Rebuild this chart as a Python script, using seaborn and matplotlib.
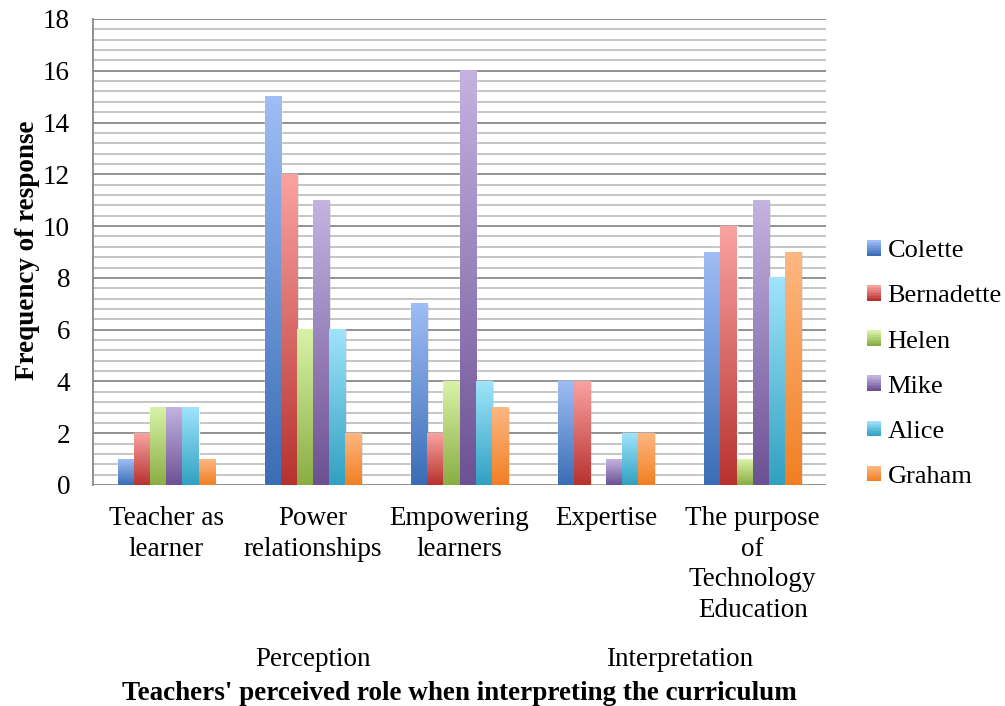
import numpy as np
import pandas as pd
import seaborn as sns
import matplotlib
matplotlib.use('Agg')
import matplotlib.pyplot as plt
from matplotlib.patches import Rectangle
from matplotlib.legend_handler import HandlerBase
from matplotlib.ticker import MultipleLocator
from matplotlib.transforms import blended_transform_factory

# Data
categories = ['Teacher as\nlearner', 'Power\nrelationships', 'Empowering\nlearners',
              'Expertise', 'The purpose\nof\nTechnology\nEducation']
teachers = ['Colette', 'Bernadette', 'Helen', 'Mike', 'Alice', 'Graham']
colette = [1, 15, 7, 4, 9]
bernadette = [2, 12, 2, 4, 10]
helen = [3, 6, 4, 0, 1]
mike = [3, 11, 16, 1, 11]
alice = [3, 6, 4, 2, 8]
graham = [1, 2, 3, 2, 9]
groups = ['Perception', 'Interpretation']
group_spans = [(0, 2), (3, 4)]

# gradient colours (top, bottom) per series
tops = ['#9fbdf6', '#f9a3a1', '#d8f3a8', '#c4b3e1', '#9fe4fb', '#fdb782']
bottoms = ['#3a6db5', '#b7322f', '#8aad43', '#6c5193', '#31a0c1', '#f17f22']

values = [colette, bernadette, helen, mike, alice, graham]
df = pd.DataFrame({
    'category': np.tile(categories, len(teachers)),
    'teacher': np.repeat(teachers, len(categories)),
    'value': np.concatenate(values),
})

sns.set_style('white')
plt.rcParams['font.family'] = ['Liberation Serif', 'DejaVu Serif']
plt.rcParams['text.color'] = 'black'
plt.rcParams['xtick.color'] = 'black'
plt.rcParams['ytick.color'] = 'black'
FS = 19.5

fig = plt.figure(figsize=(10.05, 7.06), dpi=100)
ax = fig.add_axes([93 / 1005, 1 - 485 / 706, (826 - 93) / 1005, (485 - 19) / 706])

sns.barplot(data=df, x='category', y='value', hue='teacher', hue_order=teachers,
            order=categories, palette=bottoms, width=0.66, ax=ax, legend=False,
            zorder=3)


def ramp(top, bottom, n=256):
    t = np.linspace(0, 1, n)[:, None]
    a = np.array(matplotlib.colors.to_rgb(top))
    b = np.array(matplotlib.colors.to_rgb(bottom))
    return (a * (1 - t) + b * t)[:, None, :]


# overlay gradients on each bar (patches come in hue order)
n_cat = len(categories)
for i, p in enumerate(ax.patches):
    s = i // n_cat
    x, w, h = p.get_x(), p.get_width(), p.get_height()
    if h <= 0:
        continue
    # soft shadow
    ax.add_patch(Rectangle((x + 0.012, 0), w, h - 0.05, color='#000000', alpha=0.12,
                           lw=0, zorder=2))
    ax.imshow(ramp(tops[s], bottoms[s]), extent=[x, x + w, 0, h], aspect='auto',
              zorder=4, interpolation='bilinear')

ax.set_xlim(-0.5, n_cat - 0.5)
ax.set_ylim(0, 18)
ax.yaxis.set_major_locator(MultipleLocator(2))
ax.yaxis.set_minor_locator(MultipleLocator(0.4))
ax.grid(which='major', axis='y', color='#888888', lw=1.3, zorder=0)
ax.grid(which='minor', axis='y', color='#c0c0c0', lw=1.3, zorder=0)
ax.set_axisbelow(True)
for side in ['top', 'right', 'bottom']:
    ax.spines[side].set_visible(False)
ax.spines['left'].set_color('#888888')
ax.spines['left'].set_linewidth(1.3)
ax.tick_params(axis='y', which='major', length=6, color='#888888', width=1.3,
               labelsize=FS, pad=10.5, labelcolor='black')
ax.tick_params(axis='y', which='minor', length=0)
ax.tick_params(axis='x', length=0, labelsize=FS, pad=15, labelcolor='black')
for lbl in ax.get_xticklabels():
    lbl.set_linespacing(1.3)
ax.set_xlabel('')
ax.set_ylabel('')

# second level category labels
tr = blended_transform_factory(ax.transData, fig.transFigure)
for name, (a, b) in zip(groups, group_spans):
    ax.text((a + b) / 2, 1 - 659 / 706, name, transform=tr, ha='center', va='center',
            fontsize=FS, color='black')

fig.text(459 / 1005, 1 - 693 / 706, "Teachers' perceived role when interpreting the curriculum",
         ha='center', va='center', fontsize=FS, fontweight='bold', color='black')
fig.text(28 / 1005, 1 - 250 / 706, 'Frequency of response', rotation=90,
         ha='center', va='center', fontsize=FS, fontweight='bold', color='black')


class GradientHandler(HandlerBase):
    def __init__(self, top, bottom):
        super().__init__()
        self.top, self.bottom = top, bottom

    def create_artists(self, legend, orig_handle, xdescent, ydescent, width, height,
                       fontsize, trans):
        arts = []
        n = 10
        a = np.array(matplotlib.colors.to_rgb(self.top))
        b = np.array(matplotlib.colors.to_rgb(self.bottom))
        for k in range(n):
            t = k / (n - 1)
            c = a * (1 - t) + b * t
            y0 = -ydescent + height * (1 - (k + 1) / n)
            r = Rectangle((-xdescent, y0), width, height / n, facecolor=c, lw=0,
                          transform=trans)
            arts.append(r)
        return arts


handles = [Rectangle((0, 0), 1, 1) for _ in teachers]
handler_map = {h: GradientHandler(t, b) for h, t, b in zip(handles, tops, bottoms)}
leg = fig.legend(handles, teachers, handler_map=handler_map, loc='center left',
                 bbox_to_anchor=(867 / 1005, 1 - 364 / 706), frameon=False, fontsize=19,
                 labelspacing=0.87, handlelength=0.53, handleheight=0.53,
                 handletextpad=0.25, borderpad=0, borderaxespad=0)
for t in leg.get_texts():
    t.set_color('black')

fig.savefig('out.png', dpi=100)
